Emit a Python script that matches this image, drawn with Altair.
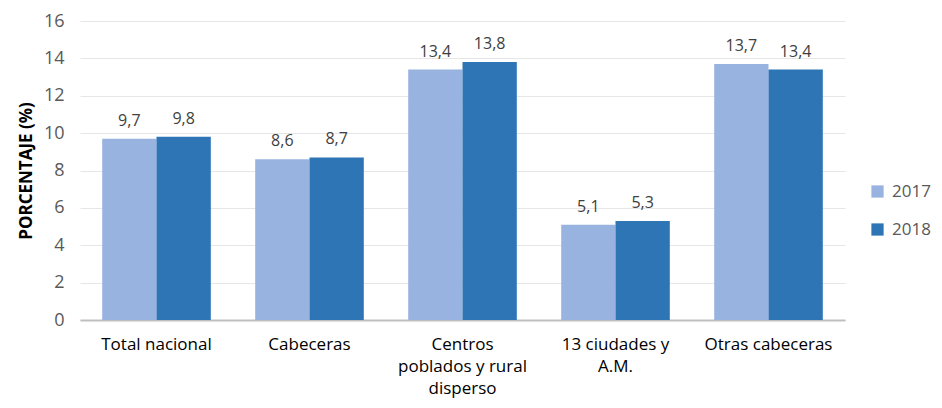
import altair as alt
import pandas as pd

categorias = ["Total nacional", "Cabeceras", "Centros poblados y rural disperso",
              "13 ciudades y A.M.", "Otras cabeceras"]
valores_2017 = [9.7, 8.6, 13.4, 5.1, 13.7]
valores_2018 = [9.8, 8.7, 13.8, 5.3, 13.4]
anios = ["2017", "2018"]
colores = ["#98B3E0", "#2E75B6"]
ticks_y = [0, 2, 4, 6, 8, 10, 12, 14, 16]

rows = []
for c, v17, v18 in zip(categorias, valores_2017, valores_2018):
    rows.append({"categoria": c, "anio": "2017", "valor": v17})
    rows.append({"categoria": c, "anio": "2018", "valor": v18})
df = pd.DataFrame(rows)

label_expr = ("datum.value == 'Centros poblados y rural disperso' ? ['Centros','poblados y rural','disperso'] : "
              "datum.value == '13 ciudades y A.M.' ? ['13 ciudades y','A.M.'] : datum.value")

x = alt.X("categoria:N", sort=categorias, title=None,
          scale=alt.Scale(paddingInner=0.29, paddingOuter=0.145),
          axis=alt.Axis(labelAngle=0, labelExpr=label_expr, labelFont="Open Sans",
                        labelFontSize=17, labelColor="#000000", labelPadding=16,
                        labelLineHeight=22, ticks=False, domainColor="#BFBFBF",
                        domainWidth=2, grid=False, labelBaseline="top", labelOverlap=False))
y = alt.Y("valor:Q", title="PORCENTAJE (%)",
          scale=alt.Scale(domain=[0, 16], nice=False),
          axis=alt.Axis(values=ticks_y, labelFont="Open Sans", labelFontSize=18,
                        labelColor="#595959", labelPadding=16, ticks=False, domain=False,
                        labelOverlap=False,
                        gridColor="#E6E6E6", gridWidth=1, titleFont="Open Sans",
                        titleFontSize=17, titleFontWeight="bold", titleColor="#000000",
                        titlePadding=8))

base = alt.Chart(df).encode(
    x=x,
    y=y,
    xOffset=alt.XOffset("anio:N", sort=anios, scale=alt.Scale(paddingInner=0, paddingOuter=0)),
)

bars = base.mark_bar().encode(
    color=alt.Color("anio:N", sort=anios, scale=alt.Scale(domain=anios, range=colores),
                    legend=alt.Legend(title=None, orient="none", legendX=789, legendY=162,
                                      symbolType="square", symbolSize=150, symbolStrokeWidth=0,
                                      labelFont="Open Sans", labelFontSize=17,
                                      labelColor="#595959", rowPadding=20, labelOffset=6)),
)

texts = base.mark_text(baseline="bottom", dy=-10, font="Open Sans", fontSize=16,
                       color="#404040").encode(
    text=alt.Text("etiqueta:N"),
).transform_calculate(etiqueta="replace(format(datum.valor, '.1f'), '.', ',')")

chart = alt.layer(bars, texts).properties(
    width=765, height=299,
    autosize=alt.AutoSizeParams(type="none"),
    padding={"left": 72, "top": 13, "right": 89, "bottom": 80},
).configure_view(stroke=None)

chart.save("out.html", embed_options={"renderer": "svg", "actions": False})
